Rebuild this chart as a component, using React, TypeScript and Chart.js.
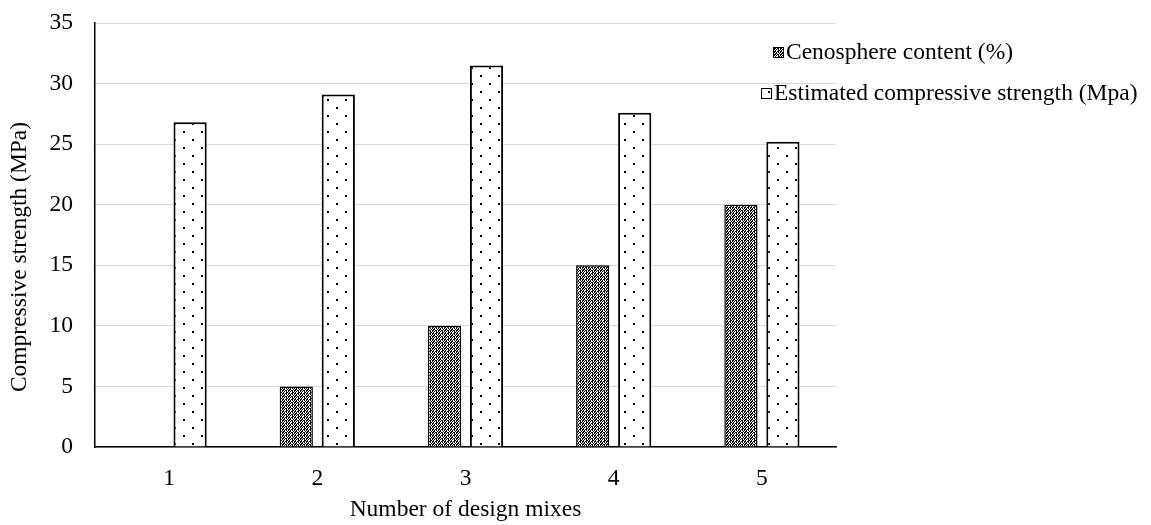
import React, { useEffect, useRef } from "react";
import { Chart, registerables } from "chart.js";

Chart.register(...registerables);

const categories = ["1", "2", "3", "4", "5"];
const cenosphereContent = [0, 5, 10, 15, 20];
const estimatedStrength = [26.8, 29.1, 31.5, 27.6, 25.2];
const seriesNames = ["Cenosphere content (%)", "Estimated compressive strength (Mpa)"];
const yTitle = "Compressive strength (MPa)";
const xTitle = "Number of design mixes";

const FONT = "'Liberation Serif', 'Times New Roman', serif";
const FS = 23.5;

function makeChecker(): CanvasPattern | string {
  const c = document.createElement("canvas");
  c.width = 6;
  c.height = 6;
  const g = c.getContext("2d");
  if (!g) return "#666";
  g.fillStyle = "#ffffff";
  g.fillRect(0, 0, 6, 6);
  g.fillStyle = "#000000";
  const rows = [
    "##.##.",
    "#.#.#.",
    ".#..##",
    "##.##.",
    "#.#.#.",
    ".##..#",
  ];
  for (let y = 0; y < 6; y++) {
    for (let x = 0; x < 6; x++) {
      if (rows[y][x] === "#") g.fillRect(x, y, 1, 1);
    }
  }
  const p = g.createPattern(c, "repeat");
  return p || "#666";
}

function makeDots(): CanvasPattern | string {
  const c = document.createElement("canvas");
  c.width = 18;
  c.height = 16;
  const g = c.getContext("2d");
  if (!g) return "#fff";
  g.fillStyle = "#ffffff";
  g.fillRect(0, 0, 18, 16);
  g.fillStyle = "#000000";
  g.fillRect(3, 3, 2, 2);
  g.fillRect(12, 11, 2, 2);
  const p = g.createPattern(c, "repeat");
  return p || "#fff";
}

export default function App() {
  const ref = useRef<HTMLCanvasElement | null>(null);

  useEffect(() => {
    const canvas = ref.current;
    if (!canvas) return;
    const checker = makeChecker();
    const dots = makeDots();

    const legendPlugin = {
      id: "customLegend",
      afterDraw(chart: any) {
        const ctx = chart.ctx;
        ctx.save();
        ctx.font = `${FS}px ${FONT}`;
        ctx.textBaseline = "middle";
        const items = [
          { x: 773, y: 52, fill: checker, name: seriesNames[0] },
          { x: 761, y: 93, fill: dots, name: seriesNames[1] },
        ];
        for (const it of items) {
          ctx.fillStyle = it.fill as any;
          ctx.fillRect(it.x, it.y - 5, 10, 10);
          ctx.strokeStyle = "#000";
          ctx.lineWidth = 1;
          ctx.strokeRect(it.x + 0.5, it.y - 4.5, 10, 10);
          ctx.fillStyle = "#000";
          ctx.fillText(it.name, it.x + 13, it.y + 1);
        }
        // y-axis title
        ctx.save();
        ctx.translate(20, 257);
        ctx.rotate(-Math.PI / 2);
        ctx.textAlign = "center";
        ctx.textBaseline = "middle";
        ctx.fillStyle = "#000";
        ctx.fillText(yTitle, 0, 0);
        ctx.restore();
        ctx.restore();
      },
    };

    const chart = new Chart(canvas, {
      type: "bar",
      data: {
        labels: categories,
        datasets: [
          {
            label: seriesNames[0],
            data: cenosphereContent,
            backgroundColor: checker as any,
            borderColor: "#000",
            borderWidth: 1.5,
            borderSkipped: "start",
            barPercentage: 0.79,
            categoryPercentage: 0.567,
          },
          {
            label: seriesNames[1],
            data: estimatedStrength,
            backgroundColor: dots as any,
            borderColor: "#000",
            borderWidth: 2,
            borderSkipped: "start",
            barPercentage: 0.79,
            categoryPercentage: 0.567,
          },
        ],
      },
      options: {
        responsive: false,
        animation: false,
        layout: { padding: { left: 0, right: 315, top: 23, bottom: 0 } },
        plugins: {
          legend: { display: false },
          tooltip: { enabled: false },
        },
        scales: {
          x: {
            grid: { display: false, drawTicks: false },
            border: { display: true, color: "#000", width: 1.5 },
            ticks: { color: "#000", font: { family: FONT, size: FS }, padding: 18 },
            title: {
              display: true,
              text: xTitle,
              color: "#000",
              font: { family: FONT, size: FS },
              padding: { top: 4, bottom: 1 },
            },
            afterFit(scale: any) {
              scale.height = 78;
            },
          },
          y: {
            min: 0,
            max: 35,
            ticks: {
              stepSize: 5,
              color: "#000",
              font: { family: FONT, size: FS },
              padding: 0,
            },
            grid: {
              color: "#d9d9d9",
              lineWidth: 1,
              drawTicks: true,
              tickLength: 22,
              tickColor: "rgba(0,0,0,0)",
            },
            border: { display: true, color: "#000", width: 1.5 },
            title: { display: false },
            afterFit(scale: any) {
              scale.width = 95;
            },
          },
        },
      },
      plugins: [legendPlugin],
    });
    return () => chart.destroy();
  }, []);

  return (
    <div style={{ position: "fixed", left: 0, top: 0, width: 1151, height: 525, background: "#fff" }}>
      <canvas ref={ref} width={1151} height={525} style={{ width: 1151, height: 525 }} />
    </div>
  );
}
